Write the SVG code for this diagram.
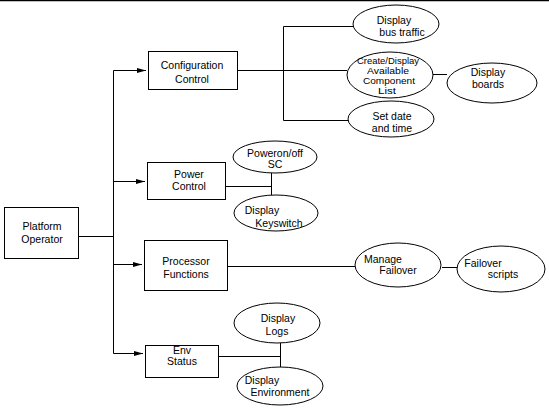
<svg xmlns="http://www.w3.org/2000/svg" width="549" height="410" viewBox="0 0 549 410">
<defs>
<marker id="arr" markerWidth="9" markerHeight="6" refX="9" refY="3" orient="auto" markerUnits="userSpaceOnUse">
<path d="M0,0.5 L9,3 L0,5.5 Z" fill="#000"/>
</marker>
</defs>
<style>
.n rect, .n ellipse { fill: #fff; stroke: #000; stroke-width: 1; }
.c line { stroke: #000; stroke-width: 1; fill: none; }
text { font-family: "Liberation Sans", Arial, sans-serif; font-size: 10.5px; fill: #000; text-anchor: middle; }
.sm { font-size: 9.5px; }
</style>
<rect x="0" y="0" width="549" height="410" fill="#fff"/>
<line x1="0" y1="0.5" x2="549" y2="0.5" stroke="#000" stroke-width="1.5"/>
<g class="c" id="connectors">
<line x1="79" y1="236.5" x2="113.5" y2="236.5"/>
<line x1="113.5" y1="70.5" x2="113.5" y2="353.5"/>
<line x1="113.5" y1="70.5" x2="146" y2="70.5" marker-end="url(#arr)"/>
<line x1="113.5" y1="181.5" x2="145" y2="181.5" marker-end="url(#arr)"/>
<line x1="113.5" y1="264.5" x2="142" y2="264.5" marker-end="url(#arr)"/>
<line x1="113.5" y1="353.5" x2="143" y2="353.5" marker-end="url(#arr)"/>
<line x1="238" y1="70.5" x2="283.5" y2="70.5"/>
<line x1="283.5" y1="26.5" x2="283.5" y2="120.5"/>
<line x1="283.5" y1="26.5" x2="353" y2="26.5"/>
<line x1="283.5" y1="70.5" x2="347" y2="70.5"/>
<line x1="283.5" y1="120.5" x2="349" y2="120.5"/>
<line x1="432" y1="74.5" x2="447" y2="74.5"/>
<line x1="226" y1="186.5" x2="271.5" y2="186.5"/>
<line x1="271.5" y1="173" x2="271.5" y2="195"/>
<line x1="228" y1="266.5" x2="355" y2="266.5"/>
<line x1="442" y1="267.5" x2="457" y2="267.5"/>
<line x1="219" y1="356.5" x2="280.5" y2="356.5"/>
<line x1="280.5" y1="343" x2="280.5" y2="367"/>
</g>
<g class="n" id="platform-operator">
<rect x="4.5" y="207.5" width="74" height="51"/>
<text x="42" y="230">Platform</text>
<text x="42" y="243">Operator</text>
</g>
<g class="n" id="configuration-control">
<rect x="148.5" y="51.5" width="89" height="38"/>
<text x="192" y="69">Configuration</text>
<text x="192" y="83">Control</text>
</g>
<g class="n" id="power-control">
<rect x="147.5" y="162.5" width="78" height="37"/>
<text x="189" y="178">Power</text>
<text x="189" y="190">Control</text>
</g>
<g class="n" id="processor-functions">
<rect x="144.5" y="240.5" width="83" height="50"/>
<text x="186" y="265">Processor</text>
<text x="186" y="278">Functions</text>
</g>
<g class="n" id="env-status">
<rect x="145.5" y="345.5" width="73" height="32"/>
<text x="182" y="354">Env</text>
<text x="182" y="365">Status</text>
</g>
<g class="n" id="display-bus-traffic">
<ellipse cx="396" cy="24" rx="43" ry="19"/>
<text x="394" y="24">Display</text>
<text x="402" y="36">bus traffic</text>
</g>
<g class="n" id="create-display">
<ellipse cx="390" cy="75" rx="43" ry="23"/>
<text class="sm" x="388" y="64" textLength="62" lengthAdjust="spacingAndGlyphs">Create/Display</text>
<text class="sm" x="388" y="74" textLength="42" lengthAdjust="spacingAndGlyphs">Available</text>
<text class="sm" x="389" y="83.5" textLength="52" lengthAdjust="spacingAndGlyphs">Component</text>
<text class="sm" x="387" y="93.5" textLength="18" lengthAdjust="spacingAndGlyphs">List</text>
</g>
<g class="n" id="display-boards">
<ellipse cx="492" cy="83" rx="45" ry="20"/>
<text x="488" y="76">Display</text>
<text x="488" y="88">boards</text>
</g>
<g class="n" id="set-date-time">
<ellipse cx="391" cy="119" rx="43" ry="18"/>
<text x="392" y="120">Set date</text>
<text x="392" y="132">and time</text>
</g>
<g class="n" id="poweron-off">
<ellipse cx="275" cy="157" rx="42" ry="16"/>
<text x="275" y="157">Poweron/off</text>
<text x="275" y="168">SC</text>
</g>
<g class="n" id="display-keyswitch">
<ellipse cx="276" cy="213" rx="42" ry="18"/>
<text x="262" y="214">Display</text>
<text x="279" y="227">Keyswitch</text>
</g>
<g class="n" id="manage-failover">
<ellipse cx="398" cy="265" rx="43" ry="22"/>
<text x="383" y="263">Manage</text>
<text x="398" y="274">Failover</text>
</g>
<g class="n" id="failover-scripts">
<ellipse cx="501" cy="269" rx="44" ry="23"/>
<text x="483" y="267">Failover</text>
<text x="503" y="278">scripts</text>
</g>
<g class="n" id="display-logs">
<ellipse cx="277" cy="323" rx="43" ry="20"/>
<text x="278" y="322">Display</text>
<text x="277" y="335">Logs</text>
</g>
<g class="n" id="display-environment">
<ellipse cx="280" cy="386" rx="43" ry="19"/>
<text x="262" y="384">Display</text>
<text x="280" y="396">Environment</text>
</g>
</svg>
